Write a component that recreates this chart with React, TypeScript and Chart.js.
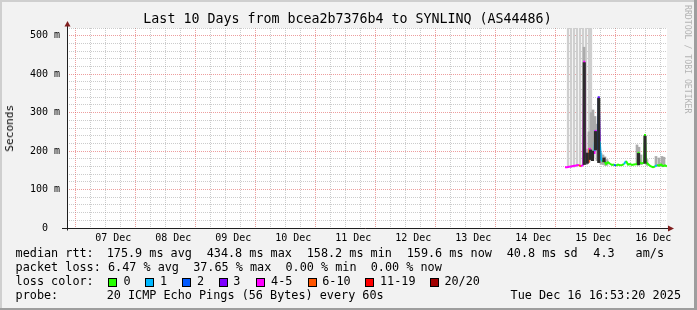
import React, { useEffect, useRef } from "react";
import { Chart, registerables } from "chart.js";

Chart.register(...registerables);

const W = 697;
const H = 310;
const MONO = '"DejaVu Sans Mono", monospace';

// ---- axis definition (x in hours since the start of the 10-day window, y in ms)
const X_MAX_HOURS = 240;
const FIRST_MIDNIGHT_HOURS = 6.5;
const Y_MAX_MS = 520;
const dayLabels = ["07 Dec", "08 Dec", "09 Dec", "10 Dec", "11 Dec", "12 Dec", "13 Dec", "14 Dec", "15 Dec", "16 Dec"];

// ---- loss colours / legend
const lossColors = ["#26ff00", "#00b8ff", "#0059ff", "#7e00ff", "#ff00ff", "#ff5500", "#ff0000", "#a10000"];
const lossLabels = ["0", "1", "2", "3", "4-5", "6-10", "11-19", "20/20"];

// ---- median rtt (ms) with loss bucket per sample
const medianHours = [199.2, 200.0, 200.8, 201.6, 202.4, 203.2, 204.0, 204.8, 205.6, 206.5, 206.9, 207.3, 208.0, 208.6, 209.0, 209.8, 210.8, 211.0, 211.4, 211.8, 212.3, 212.7, 213.1, 213.6, 214.0, 214.8, 215.6, 216.4, 217.2, 218.0, 218.8, 219.6, 220.4, 221.2, 222.0, 222.8, 223.6, 224.4, 225.2, 226.0, 226.8, 227.6, 228.2, 228.6, 229.0, 230.0, 230.8, 231.2, 231.6, 232.4, 233.2, 233.6, 234.4, 235.2, 236.0, 236.8, 237.6, 238.4, 239.2, 240.0];
const medianMs = [158, 158, 159, 160, 161, 162, 163, 164, 160, 165, 435, 184, 186, 170, 208, 190, 195, 200, 255, 205, 205, 342, 225, 180, 173, 176, 166, 171, 167, 164, 165, 162, 165, 163, 164, 166, 174, 165, 166, 164, 165, 166, 166, 198, 170, 168, 170, 244, 172, 166, 162, 160, 158, 160, 164, 162, 165, 161, 163, 160];
const medianLoss = [4, 4, 4, 4, 4, 4, 4, 4, 5, 4, 4, 4, 4, 4, 5, 4, 4, 4, 1, 4, 4, 2, 3, 1, 1, 0, 0, 0, 0, 0, 0, 2, 0, 0, 0, 0, 1, 0, 0, 0, 0, 0, 0, 0, 0, 0, 0, 0, 0, 0, 0, 0, 0, 0, 1, 0, 0, 0, 0, 0];

// ---- smoke: outer (light), middle and dense inner (dark) ranges, ms
const lightHours = [200.4, 201.6, 202.8, 204.0, 205.2, 206.4, 207.6, 208.8, 209.6];
const lightLow = [157, 157, 158, 159, 160, 162, 165, 170, 176];
const lightHigh = [600, 600, 600, 600, 600, 600, 600, 600, 600];

const midHours = [206.8, 207.8, 208.8, 209.6, 210.4, 211.2, 212.0, 213.6, 214.4, 215.2, 216.0, 228.0, 228.8, 229.6, 232.0, 235.6, 236.8, 238.0, 238.8];
const midLow = [170, 165, 172, 178, 182, 200, 175, 166, 165, 163, 163, 165, 165, 165, 163, 160, 160, 160, 160];
const midHigh = [470, 205, 250, 300, 307, 290, 270, 195, 190, 185, 178, 216, 210, 190, 178, 186, 182, 186, 184];

const darkHours = [206.9, 208.1, 209.4, 210.2, 211.4, 212.7, 214.8, 228.6, 231.2];
const darkLow = [165, 168, 178, 175, 203, 170, 172, 164, 168];
const darkHigh = [430, 195, 203, 200, 251, 337, 182, 194, 239];

// ---- texts
const titleText = "Last 10 Days from bcea2b7376b4 to SYNLINQ (AS44486)";
const yAxisTitle = "Seconds";
const watermark = "RRDTOOL / TOBI OETIKER";
const medianStats = ["median rtt:", "175.9 ms avg", "434.8 ms max", "158.2 ms min", "159.6 ms now", "40.8 ms sd", "4.3", "am/s"];
const lossStats = ["packet loss:", "6.47 % avg", "37.65 % max", "0.00 % min", "0.00 % now"];
const lossColorTitle = "loss color:";
const probeTexts = ["probe:", "20 ICMP Echo Pings (56 Bytes) every 60s", "Tue Dec 16 16:53:20 2025"];

// ---- layout of legend pieces (px)
const LEG_FS = 11.8;
const LEFT_X = 15.6;
const medianStatX = [15.6, 106.7, 206.7, 306.7, 406.7, 506.7, 593.3, 635.6];
const lossBoxX = [108, 145.3, 182.2, 219.1, 256.4, 307.6, 365.3, 430.2];
const lossLabelX = [123.6, 160, 196.9, 233.3, 271.1, 322.2, 380, 444.4];
const probeValueX = 106.7;
const dateRightX = 681;
const rowBaselines = [258, 272, 286, 300];

const xTickValues: number[] = [];
for (let v = FIRST_MIDNIGHT_HOURS - 6; v <= X_MAX_HOURS; v += 6) xTickValues.push(v);
const yTickValues: number[] = [];
for (let v = 0; v <= Y_MAX_MS; v += 20) yTickValues.push(v);

const MGRID = "rgba(222,79,79,0.55)";
const GRID = "rgba(143,143,143,0.45)";

const framePlugin = {
  id: "rrdFrame",
  beforeDraw(chart: any) {
    const { ctx, chartArea: a } = chart;
    ctx.save();
    ctx.fillStyle = "#f2f2f2";
    ctx.fillRect(0, 0, W, H);
    ctx.fillStyle = "#cfcfcf";
    ctx.fillRect(0, 0, W, 2);
    ctx.fillRect(0, 0, 2, H);
    ctx.fillStyle = "#9e9e9e";
    ctx.fillRect(0, H - 2, W, 2);
    ctx.fillRect(W - 3, 0, 3, H);
    ctx.fillStyle = "#ffffff";
    ctx.fillRect(a.left, a.top, a.right - a.left, a.bottom - a.top);
    ctx.restore();
  },
  afterDraw(chart: any) {
    const { ctx, chartArea: a } = chart;
    ctx.save();
    ctx.strokeStyle = "#1f1f1f";
    ctx.lineWidth = 1;
    ctx.beginPath();
    ctx.moveTo(a.left - 5, a.bottom + 0.5);
    ctx.lineTo(a.right + 2, a.bottom + 0.5);
    ctx.moveTo(a.left + 0.5, a.bottom + 2.5);
    ctx.lineTo(a.left + 0.5, a.top - 2);
    ctx.stroke();
    ctx.fillStyle = "#801f1f";
    ctx.beginPath();
    ctx.moveTo(a.right + 1, a.bottom - 2.5);
    ctx.lineTo(a.right + 7, a.bottom + 0.5);
    ctx.lineTo(a.right + 1, a.bottom + 3.5);
    ctx.closePath();
    ctx.fill();
    ctx.beginPath();
    ctx.moveTo(a.left - 2.5, a.top - 1.5);
    ctx.lineTo(a.left + 0.5, a.top - 7);
    ctx.lineTo(a.left + 3.5, a.top - 1.5);
    ctx.closePath();
    ctx.fill();
    ctx.restore();
  },
};

function isMidnight(v: number) {
  return Math.abs(((v - FIRST_MIDNIGHT_HOURS) % 24 + 24) % 24) < 0.01;
}

export default function App() {
  const ref = useRef<HTMLCanvasElement | null>(null);

  useEffect(() => {
    if (!ref.current) return;
    const chart = new Chart(ref.current, {
      type: "bar",
      data: {
        datasets: [
          {
            type: "bar",
            data: darkHours.map((t, i) => ({ x: t, y: [darkLow[i], darkHigh[i]] })) as any,
            backgroundColor: "#2b2b2b",
            barThickness: 2.5,
            grouped: false,
            order: 1,
          },
          {
            type: "line",
            data: medianHours.map((t, i) => ({ x: t, y: medianMs[i] })),
            borderColor: lossColors[4],
            borderWidth: 2,
            pointRadius: 0,
            tension: 0,
            segment: {
              borderColor: (c: any) => lossColors[medianLoss[c.p1DataIndex]],
            },
            order: 2,
          } as any,
          {
            type: "bar",
            data: midHours.map((t, i) => ({ x: t, y: [midLow[i], midHigh[i]] })) as any,
            backgroundColor: "#ababab",
            barThickness: 2,
            grouped: false,
            order: 3,
          },
          {
            type: "bar",
            data: lightHours.map((t, i) => ({ x: t, y: [lightLow[i], lightHigh[i]] })) as any,
            backgroundColor: "#cfcfcf",
            barThickness: 1.6,
            grouped: false,
            order: 4,
          },
        ],
      },
      options: {
        animation: false,
        responsive: false,
        maintainAspectRatio: false,
        events: [],
        layout: { padding: { left: 7, top: 28, right: 30, bottom: 0 } },
        plugins: {
          legend: { display: false },
          tooltip: { enabled: false },
          title: { display: false },
        },
        scales: {
          x: {
            type: "linear",
            min: 0,
            max: X_MAX_HOURS,
            offset: false,
            afterBuildTicks: (s: any) => {
              s.ticks = xTickValues.map((v) => ({ value: v }));
            },
            afterFit: (s: any) => {
              s.height = 82;
            },
            ticks: {
              autoSkip: false,
              maxRotation: 0,
              padding: 4,
              color: "#000000",
              font: { family: MONO, size: 10 },
              callback: (v: any) => {
                const k = (Number(v) - FIRST_MIDNIGHT_HOURS - 12) / 24;
                if (Math.abs(k - Math.round(k)) < 0.01 && k >= 0 && k < dayLabels.length) return dayLabels[Math.round(k)];
                return "";
              },
            },
            grid: {
              drawTicks: false,
              lineWidth: 1,
              color: (c: any) => (isMidnight(c.tick?.value) ? MGRID : GRID),
            },
            border: { display: false, dash: [1, 1] },
          },
          y: {
            type: "linear",
            min: 0,
            max: Y_MAX_MS,
            afterBuildTicks: (s: any) => {
              s.ticks = yTickValues.map((v) => ({ value: v }));
            },
            afterFit: (s: any) => {
              s.width = 60;
            },
            ticks: {
              autoSkip: false,
              padding: 7,
              color: "#000000",
              font: { family: MONO, size: 10 },
              callback: (v: any) => {
                const n = Number(v);
                if (n % 100 !== 0) return "";
                return n === 0 ? "0  " : `${n} m`;
              },
            },
            grid: {
              drawTicks: false,
              lineWidth: 1,
              color: (c: any) => (c.tick && c.tick.value % 100 === 0 ? MGRID : GRID),
            },
            border: { display: false, dash: [1, 1] },
          },
        },
      } as any,
      plugins: [framePlugin],
    });
    return () => chart.destroy();
  }, []);

  const textTop = (baseline: number, fs: number) => baseline - 0.846 * fs;
  const legStyle = (x: number, row: number): React.CSSProperties => ({
    position: "absolute",
    left: x,
    top: textTop(rowBaselines[row], LEG_FS),
    fontFamily: MONO,
    fontSize: LEG_FS,
    lineHeight: `${LEG_FS}px`,
    whiteSpace: "pre",
    color: "#000",
  });

  const lossLine = lossStats[0] + " " + lossStats.slice(1).join("  ");

  return (
    <div style={{ position: "absolute", left: 0, top: 0, width: W, height: H, overflow: "hidden" }}>
      <canvas ref={ref} width={W} height={H} style={{ position: "absolute", left: 0, top: 0, width: W, height: H }} />
      <div
        style={{
          position: "absolute",
          left: -1,
          width: W,
          top: textTop(23.3, 13.3),
          textAlign: "center",
          fontFamily: MONO,
          fontSize: 13.3,
          lineHeight: "13.3px",
          whiteSpace: "pre",
          color: "#000",
        }}
      >
        {titleText}
      </div>
      <div
        style={{
          position: "absolute",
          left: 0,
          top: 0,
          width: 0,
          height: 0,
          transform: "translate(10px, 128.3px) rotate(-90deg)",
        }}
      >
        <div
          style={{
            position: "absolute",
            left: 0,
            top: 0,
            transform: "translate(-50%, -50%)",
            fontFamily: MONO,
            fontSize: 11.1,
            lineHeight: "11.1px",
            whiteSpace: "pre",
            color: "#000",
          }}
        >
          {yAxisTitle}
        </div>
      </div>
      <div
        style={{
          position: "absolute",
          left: 683,
          top: 5,
          width: 9,
          writingMode: "vertical-rl",
          fontFamily: MONO,
          fontSize: 8.2,
          lineHeight: "9px",
          whiteSpace: "pre",
          color: "#b4b4b4",
        }}
      >
        {watermark}
      </div>
      {medianStats.map((s, i) => (
        <div key={"m" + i} style={legStyle(medianStatX[i], 0)}>{s}</div>
      ))}
      <div style={legStyle(LEFT_X, 1)}>{lossLine}</div>
      <div style={legStyle(LEFT_X, 2)}>{lossColorTitle}</div>
      {lossLabels.map((s, i) => (
        <React.Fragment key={"c" + i}>
          <div
            style={{
              position: "absolute",
              left: lossBoxX[i],
              top: 278,
              width: 9,
              height: 9,
              boxSizing: "border-box",
              border: "1px solid #000",
              background: lossColors[i],
            }}
          />
          <div style={legStyle(lossLabelX[i], 2)}>{s}</div>
        </React.Fragment>
      ))}
      <div style={legStyle(LEFT_X, 3)}>{probeTexts[0]}</div>
      <div style={legStyle(probeValueX, 3)}>{probeTexts[1]}</div>
      <div style={{ ...legStyle(0, 3), left: undefined, right: W - dateRightX, textAlign: "right" }}>{probeTexts[2]}</div>
    </div>
  );
}
